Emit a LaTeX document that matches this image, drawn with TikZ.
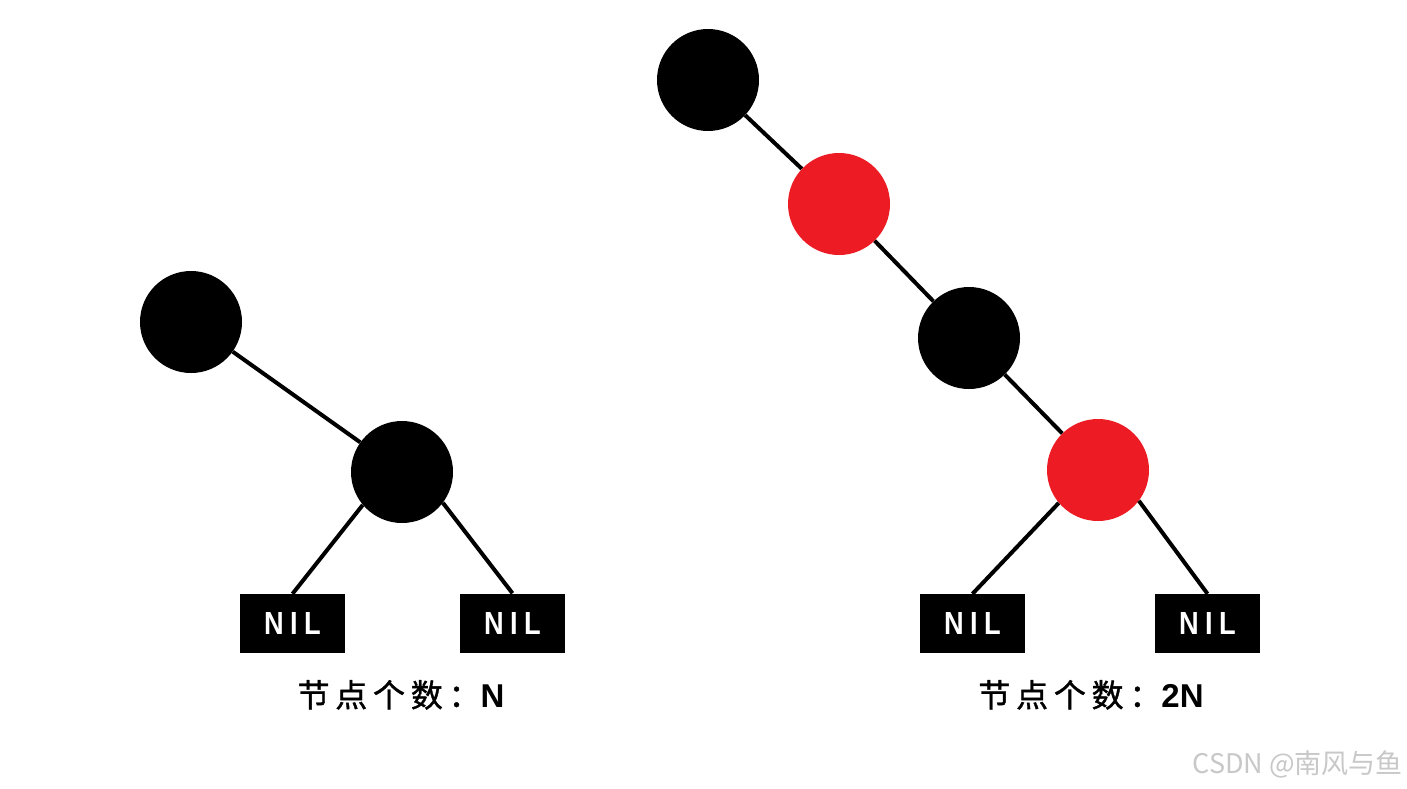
\documentclass[tikz,border=0pt]{standalone}
\usepackage{fontspec}
\newfontfamily\cjklabel[LetterSpace=18,FakeBold=1.2]{Noto Sans CJK SC}
\newfontfamily\cjkwm{Noto Sans CJK SC}
\newfontfamily\nilfont[LetterSpace=20,FakeStretch=0.85]{Liberation Sans Bold}
\newfontfamily\numfont{Liberation Sans Bold}
\definecolor{rbred}{HTML}{ED1C24}
\definecolor{wmgray}{HTML}{C8C8C8}
\begin{document}
\begin{tikzpicture}[x=1pt,y=-1pt,
  treenode/.style={circle,minimum size=102pt,inner sep=0pt,draw=none},
  blacknode/.style={treenode,fill=black},
  rednode/.style={treenode,fill=rbred},
  nilbox/.style={rectangle,fill=black,minimum width=105pt,minimum height=59pt,inner sep=0pt,text=white,font=\nilfont\fontsize{32}{32}\selectfont},
  edge/.style={line width=4pt,black},
  countlabel/.style={inner sep=0pt,font=\fontsize{32}{32}\selectfont}
]
\useasboundingbox (0,0) rectangle (1407,789);
\fill[white] (0,0) rectangle (1407,789);
% left tree
\node[blacknode] (l1) at (191,322) {};
\node[blacknode] (l2) at (402,472) {};
\node[nilbox] (ln1) at (292.5,623.5) {NIL};
\node[nilbox] (ln2) at (512.5,623) {NIL};
\draw[edge] (l1) -- (l2);
\draw[edge] (l2.220) -- (ln1.north);
\draw[edge] (l2.-37) -- (ln2.north);
\node[countlabel,anchor=base] (lcount) at (401,707) {{\cjklabel 节点个数：}{\numfont\fontsize{33}{33}\selectfont N}};
% right tree
\node[blacknode] (r1) at (708,80) {};
\node[rednode] (r2) at (839,204) {};
\node[blacknode] (r3) at (969,338) {};
\node[rednode] (r4) at (1098,470) {};
\node[nilbox] (rn1) at (972.5,623.5) {NIL};
\node[nilbox] (rn2) at (1207.5,623.5) {NIL};
\draw[edge] (r1) -- (r2);
\draw[edge] (r2) -- (r3);
\draw[edge] (r3) -- (r4);
\draw[edge] (r4.220) -- (rn1.north);
\draw[edge] (r4.-37) -- (rn2.north);
\node[countlabel,anchor=base] (rcount) at (1091,707) {{\cjklabel 节点个数：}{\numfont\fontsize{33}{33}\selectfont 2N}};
% watermark
\node[inner sep=0pt,anchor=base east,text=wmgray,font=\cjkwm\fontsize{27}{27}\selectfont] (wm) at (1403,773) {CSDN @南风与鱼};
\end{tikzpicture}
\end{document}
